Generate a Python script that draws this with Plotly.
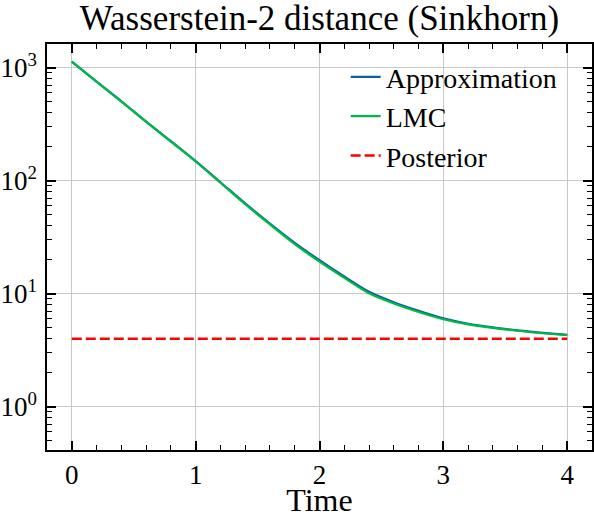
"""Wasserstein-2 distance (Sinkhorn) over time, log scale."""
import plotly.graph_objects as go

# time grid
time = [0.0, 0.2, 0.4, 0.6, 0.8, 1.0, 1.2, 1.4, 1.6, 1.8, 2.0,
        2.2, 2.4, 2.6, 2.8, 3.0, 3.2, 3.4, 3.6, 3.8, 4.0]

# estimated W2 values (log axis)
approximation = [1130, 752, 505, 333, 224, 149, 97, 63, 41.8, 28.2, 19.8,
                 14.2, 10.4, 8.4, 7.05, 6.05, 5.42, 5.03, 4.74, 4.5, 4.32]
lmc = [1130, 753, 502, 334, 222, 148, 96, 62, 41, 27.5, 19.2,
       13.8, 10.1, 8.2, 6.9, 5.95, 5.35, 4.98, 4.7, 4.47, 4.31]

posterior_time = [0.0, 4.0]
posterior = [4.0, 4.0]

x_ticks = [0, 1, 2, 3, 4]
y_ticks = [1, 10, 100, 1000]
y_tick_labels = ["10<sup>0</sup>", "10<sup>1</sup>", "10<sup>2</sup>", "10<sup>3</sup>"]

FONT = "Liberation Serif"

fig = go.Figure()

fig.add_trace(
    go.Scatter(
        x=time, y=approximation, mode="lines", name="Approximation",
        line={"color": "#0C5DA5", "width": 2.2, "shape": "spline", "smoothing": 0.8},
    )
)
fig.add_trace(
    go.Scatter(
        x=time, y=lmc, mode="lines", name="LMC",
        line={"color": "#00B945", "width": 2.2, "shape": "spline", "smoothing": 0.8},
    )
)
fig.add_trace(
    go.Scatter(
        x=posterior_time, y=posterior, mode="lines", name="Posterior",
        line={"color": "#FF0000", "width": 2.5, "dash": "10px,4px"},
    )
)

# minor log ticks 2..9 in each decade
minor_y = [m * 10**e for e in range(-1, 4) for m in range(2, 10)]

fig.update_layout(
    template="simple_white",
    width=594,
    height=518,
    margin={"l": 47, "r": 2, "t": 44, "b": 68, "autoexpand": False},
    paper_bgcolor="white",
    plot_bgcolor="white",
    font={"family": FONT, "size": 27, "color": "black"},
    title={
        "text": "Wasserstein-2 distance (Sinkhorn)",
        "font": {"size": 35},
        "x": 0.5,
        "xref": "paper",
        "xanchor": "center",
        "y": 0.965,
        "yref": "container",
        "yanchor": "middle",
    },
    legend={
        "x": 0.548,
        "y": 0.98,
        "xanchor": "left",
        "yanchor": "top",
        "bgcolor": "rgba(0,0,0,0)",
        "font": {"size": 28},
        "tracegroupgap": 0,
    },
    showlegend=True,
)

fig.update_xaxes(
    range=[-0.2, 4.2],
    tickvals=x_ticks,
    ticks="inside",
    ticklen=9,
    tickwidth=1.6,
    tickcolor="#000000",
    showline=True,
    linecolor="black",
    linewidth=1.5,
    mirror="allticks",
    showgrid=True,
    gridcolor="#c8c8c8",
    gridwidth=1.2,
    zeroline=False,
    automargin=False,
    title={"text": "Time", "standoff": 6},
    minor={"dtick": 0.2, "tick0": 0, "ticks": "inside", "ticklen": 5,
           "tickwidth": 1.3, "tickcolor": "#000000", "showgrid": False},
)

fig.update_yaxes(
    type="log",
    range=[-0.383, 3.21],
    tickvals=y_ticks,
    ticktext=y_tick_labels,
    ticks="inside",
    ticklen=9,
    tickwidth=1.6,
    tickcolor="#000000",
    showline=True,
    linecolor="black",
    linewidth=1.5,
    mirror="allticks",
    showgrid=True,
    gridcolor="#c8c8c8",
    gridwidth=1.2,
    zeroline=False,
    automargin=False,
    ticklabelstandoff=3,
    minor={"tickmode": "array", "tickvals": minor_y, "ticks": "inside", "ticklen": 5,
           "tickwidth": 1.3, "tickcolor": "#000000", "showgrid": False},
)

# drop the default 8px page margin so the figure fills the window
fig.write_html(
    "out.html",
    config={"displayModeBar": False},
    post_script="document.body.style.margin = '0';",
)
